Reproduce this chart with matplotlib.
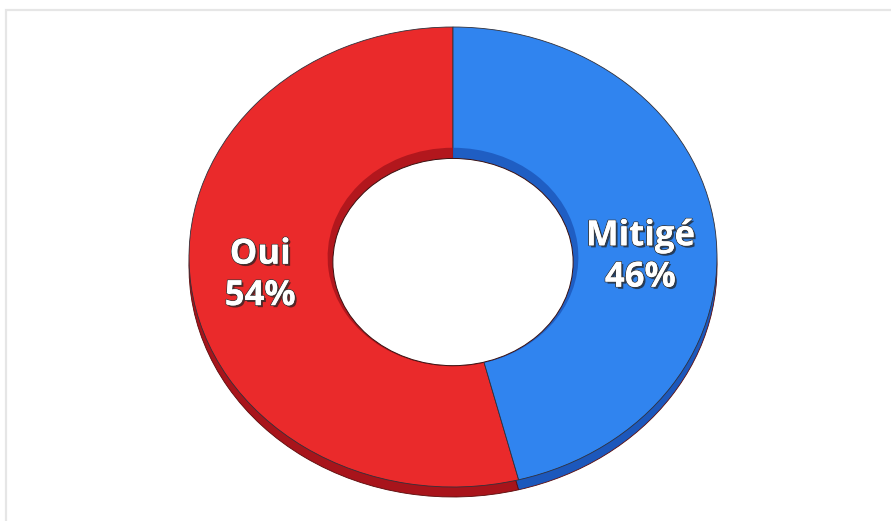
import matplotlib
matplotlib.use("Agg")
import matplotlib.pyplot as plt
import matplotlib.patheffects as pe
from matplotlib.patches import Ellipse, Rectangle
import numpy as np

# --- données ---
categories = ["Oui", "Mitigé"]
valeurs = [54, 46]
couleurs = ["#EA2A2B", "#3084EF"]
couleurs_sombres = ["#A8141B", "#1C58BC"]

W, H = 891, 521
fig = plt.figure(figsize=(W / 100, H / 100), dpi=100)
ax = fig.add_axes([0, 0, 1, 1])
ax.axis("off")

# ellipse : demi-axes en pixels
rx, ry = 264, 230
cx_px, cy_px = 453, 257  # centre (y depuis le haut)

r_int = 0.455
ep = 10 / ry  # épaisseur 3D

# tranche (ombre sous l'anneau)
ax.pie(valeurs, colors=couleurs_sombres, startangle=90, counterclock=True,
       radius=1.0, center=(0, -ep),
       wedgeprops=dict(edgecolor="#5a0a0a", linewidth=0.6))
# face principale
ax.pie(valeurs, colors=couleurs, startangle=90, counterclock=True,
       radius=1.0, center=(0, 0),
       wedgeprops=dict(edgecolor="#30303a", linewidth=0.6))
# ombre intérieure du trou
ax.pie(valeurs, colors=couleurs_sombres, startangle=90, counterclock=True,
       radius=r_int + 0.02, center=(0, 0),
       wedgeprops=dict(edgecolor="none", linewidth=0, alpha=0.85))
ax.add_patch(Ellipse((0, -0.022), 2 * r_int, 2 * r_int * 0.99,
                     facecolor="white", edgecolor="#3a1010", linewidth=0.7, zorder=5))
ax.set_aspect("auto")
ax.set_xlim(-cx_px / rx, (W - cx_px) / rx)
ax.set_ylim(-(H - cy_px) / ry, cy_px / ry)

# étiquettes
effets = [pe.SimplePatchShadow(offset=(1.5, -1.5), shadow_rgbFace="#202020", alpha=0.7),
          pe.withStroke(linewidth=1.2, foreground="#3a3a3a"), pe.Normal()]
pos_labels = [(-0.73, -0.08), (0.71, 0.0)]
for cat, val, (x, y) in zip(categories, valeurs, pos_labels):
    ax.text(x, y, f"{cat}\n{val}%", ha="center", va="center", color="white",
            fontsize=25, fontweight="bold", family="Open Sans",
            linespacing=1.2, zorder=10, path_effects=effets)

# cadre gris clair
fig.add_artist(Rectangle((6 / W, -0.1), 1.2, (H - 10) / H + 0.1,
                         transform=fig.transFigure, fill=False,
                         edgecolor="#e6e6e6", linewidth=1.6))

fig.savefig("out.png", dpi=100, facecolor="white")
